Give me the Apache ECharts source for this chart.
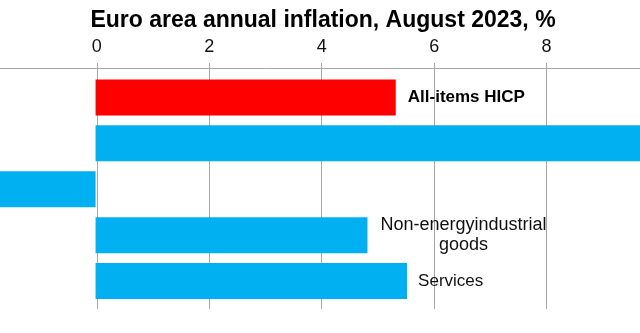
<!DOCTYPE html>
<html><head><meta charset="utf-8">
<script src="https://cdn.jsdelivr.net/npm/echarts@6/dist/echarts.min.js"></script>
<style>html,body{margin:0;padding:0;background:#fff;width:640px;height:333px;overflow:hidden;position:relative;}#c{position:absolute;left:-131px;top:0;width:793px;height:333px;}</style>
</head><body><div id="c"></div>
<script>
var categories = ['All-items HICP', 'Food, alcohol & tobacco', 'Energy', 'Non-energy industrial goods', 'Services'];
var values = [5.3, 9.8, -3.3, 4.8, 5.5];
var labels = ['All-items HICP', '', '', 'Non-energyindustrial\ngoods', 'Services'];
var xTicks = [0, 2, 4, 6, 8];

var RED = '#FF0000', BLUE = '#00B0F0';
var FONT = '"Liberation Sans", Arial, sans-serif';

var barData = values.map(function (v, i) {
  var item = { value: v, itemStyle: { color: i === 0 ? RED : BLUE } };
  if (!labels[i]) {
    item.label = { show: false };
  } else if (i === 0) {
    item.label = { show: true, position: 'right', distance: 12, fontWeight: 'bold', color: '#000' };
  } else if (labels[i].indexOf('\n') >= 0) {
    item.label = { show: true, position: 'right', distance: 10, align: 'center', offset: [86, 0], fontSize: 18, lineHeight: 20, color: '#111' };
  } else {
    item.label = { show: true, position: 'right', distance: 11, color: '#111' };
  }
  return item;
});

var chart = echarts.init(document.getElementById('c'), null, { renderer: 'canvas' });
chart.setOption({
  animation: false,
  backgroundColor: '#fff',
  title: {
    text: 'Euro area annual inflation, August 2023, %',
    left: 449, textAlign: 'center', top: 4,
    textStyle: { fontFamily: FONT, fontSize: 23, fontWeight: 'bold', color: '#000' }
  },
  grid: [
    { left: 0, right: 0, top: 68, bottom: 24, containLabel: false },
    { left: 0, right: 0, top: 74.5, bottom: 29, containLabel: false }
  ],
  xAxis: [
    {
      gridIndex: 0, type: 'value', position: 'top', min: -4, max: 10, interval: 2,
      axisLine: { show: true, lineStyle: { color: '#A6A6A6', width: 1 } },
      axisTick: { show: true, inside: false, length: 5, lineStyle: { color: '#A6A6A6' } },
      axisLabel: {
        margin: 12, fontFamily: FONT, fontSize: 18, color: '#111',
        formatter: function (v) { return xTicks.indexOf(v) >= 0 ? String(v) : ''; }
      },
      splitLine: { show: true, lineStyle: { color: '#A6A6A6', width: 1 } }
    },
    {
      gridIndex: 1, type: 'value', position: 'top', min: -4, max: 10, interval: 2,
      show: false
    }
  ],
  yAxis: [
    { gridIndex: 0, type: 'category', data: categories, inverse: true, show: false },
    { gridIndex: 1, type: 'category', data: categories, inverse: true, show: false }
  ],
  series: [{
    type: 'bar',
    xAxisIndex: 1, yAxisIndex: 1,
    barCategoryGap: '21.6%',
    data: barData,
    label: {
      show: true, fontFamily: FONT, fontSize: 17,
      formatter: function (p) { return labels[p.dataIndex]; }
    }
  }]
});
</script>
</body></html>
